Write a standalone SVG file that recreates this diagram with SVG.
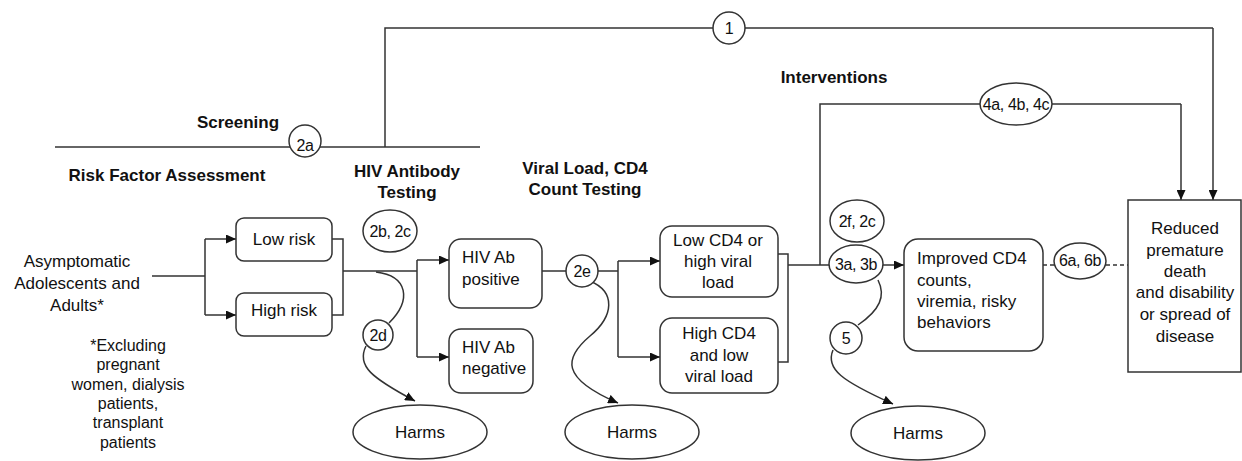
<svg xmlns="http://www.w3.org/2000/svg" width="1242" height="461" viewBox="0 0 1242 461">
<defs>
<marker id="ah" viewBox="0 0 10 10" refX="10" refY="5" markerWidth="10" markerHeight="9" markerUnits="userSpaceOnUse" orient="auto" preserveAspectRatio="none"><path d="M0,0 L10,5 L0,10 z" fill="#111"/></marker>
<style>
.ln{fill:none;stroke:#333;stroke-width:1.5}
.arr{fill:none;stroke:#333;stroke-width:1.5;marker-end:url(#ah)}
.box{fill:#fff;stroke:#333;stroke-width:1.5}
.t{font-family:"Liberation Sans",Arial,sans-serif;font-size:17px;fill:#111}
.c{text-anchor:middle}
.b{font-weight:bold;font-size:17px}
.s{font-size:16px;letter-spacing:-0.4px}
.f{font-size:16px}
</style>
</defs>
<rect width="1242" height="461" fill="#fff"/>

<g id="connectors">
<path class="ln" d="M55,147 H480"/>
<path class="ln" d="M385,147 V28 H1213"/>
<path class="arr" d="M1213,28 V200"/>
<path class="ln" d="M820,265 V104 H1181"/>
<path class="arr" d="M1181,104 V200"/>
<path class="ln" d="M152,276 H205 M205,239 V315"/>
<path class="arr" d="M205,239 H236"/>
<path class="arr" d="M205,315 H236"/>
<path class="ln" d="M332,239 H343 V315 H332 M343,271 H417 M417,260 V357"/>
<path class="arr" d="M417,260 H449"/>
<path class="arr" d="M417,357 H449"/>
<path class="ln" d="M542,271 H618 M618,261 V357"/>
<path class="arr" d="M618,261 H660"/>
<path class="arr" d="M618,357 H660"/>
<path class="ln" d="M778,254 H788 V362 H778 M788,265 H830"/>
<path class="arr" d="M883,265 H904"/>
<path class="ln" d="M1043,265 H1128" stroke-dasharray="4,3"/>
<path class="ln" d="M376,272 C408,276 412,300 389,323"/>
<path class="arr" d="M366,346 C356,366 372,378 415,401"/>
<path class="arr" d="M590,281 C616,292 614,316 590,336 C564,358 560,378 618,403"/>
<path class="ln" d="M878,280 C886,296 880,310 858,325"/>
<path class="arr" d="M833,350 C825,369 842,381 893,404"/>
</g>

<g id="labels">
<text class="t b c" x="238" y="128">Screening</text>
<text class="t b c" x="167" y="181">Risk Factor Assessment</text>
<text class="t b c" x="407" y="177">HIV Antibody</text>
<text class="t b c" x="407" y="198">Testing</text>
<text class="t b c" x="585" y="174">Viral Load, CD4</text>
<text class="t b c" x="585" y="195">Count Testing</text>
<text class="t b c" x="834" y="83">Interventions</text>
</g>

<g id="pop">
<text class="t c" x="77" y="267">Asymptomatic</text>
<text class="t c" x="77" y="289">Adolescents and</text>
<text class="t c" x="77" y="311">Adults*</text>
</g>
<g id="footnote">
<text class="t f c" x="128" y="351">*Excluding</text>
<text class="t f c" x="128" y="370">pregnant</text>
<text class="t f c" x="128" y="390">women, dialysis</text>
<text class="t f c" x="128" y="409">patients,</text>
<text class="t f c" x="128" y="428">transplant</text>
<text class="t f c" x="128" y="448">patients</text>
</g>

<g id="lowrisk"><rect class="box" x="236" y="218" width="96" height="43" rx="8"/><text class="t c" x="284" y="245">Low risk</text></g>
<g id="highrisk"><rect class="box" x="236" y="293" width="96" height="43" rx="8"/><text class="t c" x="284" y="316">High risk</text></g>
<g id="abpos"><rect class="box" x="449" y="239" width="93" height="69" rx="12"/><text class="t" x="462" y="263">HIV Ab</text><text class="t" x="462" y="285">positive</text></g>
<g id="abneg"><rect class="box" x="449" y="329" width="84" height="64" rx="12"/><text class="t" x="462" y="353">HIV Ab</text><text class="t" x="462" y="374">negative</text></g>
<g id="lowcd4"><rect class="box" x="660" y="226" width="118" height="71" rx="12"/><text class="t c" x="718" y="246">Low CD4 or</text><text class="t c" x="718" y="267">high viral</text><text class="t c" x="718" y="288">load</text></g>
<g id="highcd4"><rect class="box" x="660" y="318" width="118" height="75" rx="12"/><text class="t c" x="719" y="339">High CD4</text><text class="t c" x="719" y="361">and low</text><text class="t c" x="719" y="382">viral load</text></g>
<g id="improved"><rect class="box" x="904" y="239" width="139" height="112" rx="14"/><text class="t" x="917" y="264">Improved CD4</text><text class="t" x="917" y="286">counts,</text><text class="t" x="917" y="307">viremia, risky</text><text class="t" x="917" y="328">behaviors</text></g>
<g id="reduced"><rect class="box" x="1128" y="200" width="113" height="172"/><text class="t c" x="1185" y="234">Reduced</text><text class="t c" x="1185" y="256">premature</text><text class="t c" x="1185" y="277">death</text><text class="t c" x="1185" y="298">and disability</text><text class="t c" x="1185" y="320">or spread of</text><text class="t c" x="1185" y="342">disease</text></g>

<g id="harms1"><ellipse class="box" cx="420" cy="432" rx="67" ry="27"/><text class="t c" x="420" y="438">Harms</text></g>
<g id="harms2"><ellipse class="box" cx="632" cy="432" rx="67" ry="27"/><text class="t c" x="632" y="438">Harms</text></g>
<g id="harms3"><ellipse class="box" cx="918" cy="433" rx="67" ry="27"/><text class="t c" x="918" y="439">Harms</text></g>

<g id="kq1"><circle class="box" cx="729" cy="28" r="16"/><text class="t s c" x="729" y="34">1</text></g>
<g id="kq2a"><circle class="box" cx="305" cy="141" r="16"/><text class="t s c" x="305" y="151">2a</text></g>
<g id="kq2b2c"><ellipse class="box" cx="390" cy="231" rx="27" ry="21"/><text class="t s c" x="390" y="237">2b, 2c</text></g>
<g id="kq2d"><circle class="box" cx="378" cy="335" r="15"/><text class="t s c" x="378" y="341">2d</text></g>
<g id="kq2e"><circle class="box" cx="582" cy="271" r="16"/><text class="t s c" x="582" y="277">2e</text></g>
<g id="kq2f2c"><ellipse class="box" cx="857" cy="221" rx="27" ry="21"/><text class="t s c" x="857" y="227">2f, 2c</text></g>
<g id="kq3"><ellipse class="box" cx="856" cy="264" rx="27" ry="19"/><text class="t s c" x="856" y="270">3a, 3b</text></g>
<g id="kq4"><ellipse class="box" cx="1016" cy="104" rx="36" ry="21"/><text class="t s c" x="1016" y="110">4a, 4b, 4c</text></g>
<g id="kq5"><circle class="box" cx="846" cy="338" r="16"/><text class="t s c" x="846" y="344">5</text></g>
<g id="kq6"><ellipse class="box" cx="1080" cy="261" rx="26" ry="18"/><text class="t s c" x="1080" y="266">6a, 6b</text></g>
</svg>
